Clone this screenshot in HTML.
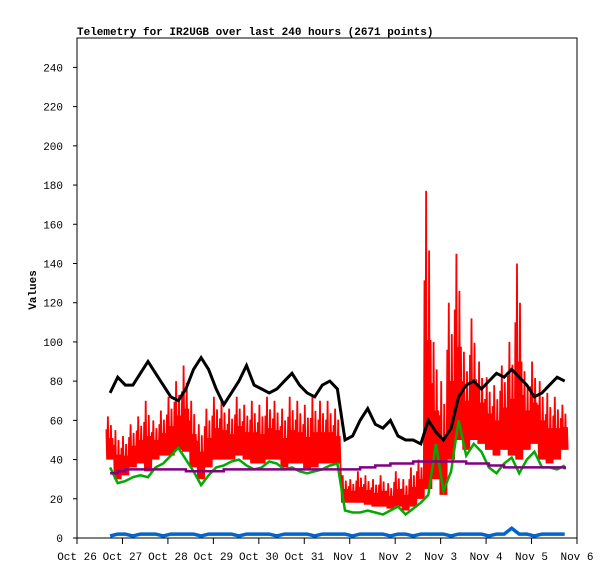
<!DOCTYPE html>
<html><head><meta charset="utf-8"><style>
body{margin:0;background:#fff}
svg text{font-family:"Liberation Mono",monospace;font-size:11px;fill:#000}
</style></head><body>
<svg id="chart" width="615" height="579" xmlns="http://www.w3.org/2000/svg">
<text x="77" y="35" style="font-weight:bold">Telemetry for IR2UGB over last 240 hours (2671 points)</text>
<text transform="translate(36,290) rotate(-90)" text-anchor="middle" style="font-weight:bold">Values</text>
<g id="plot"></g>
</svg>
<script>
const xTickLabels=["Oct 26","Oct 27","Oct 28","Oct 29","Oct 30","Oct 31","Nov 1","Nov 2","Nov 3","Nov 4","Nov 5","Nov 6"];
const yTicks=[0,20,40,60,80,100,120,140,160,180,200,220,240];
const startHour=17.5, stepHours=4;
const black=[74,82,78,78,84,90,84,78,72,70,76,86,92,86,76,68,74,80,88,78,76,74,76,80,84,78,74,72,78,80,76,50,52,60,66,58,56,60,52,50,50,48,60,54,50,56,72,78,80,76,80,84,82,86,82,78,72,74,78,82,80];
const green=[36,28,29,31,32,31,36,38,42,46,40,34,27,32,36,37,39,40,37,35,36,39,38,35,36,34,33,34,35,37,38,14,13,13,14,13,12,14,16,12,15,18,22,48,24,34,60,42,48,44,36,33,38,41,33,40,44,36,36,35,37];
const redHi=[62,55,52,58,62,70,60,65,72,80,88,70,58,66,72,70,66,72,68,70,68,72,70,66,72,70,68,72,70,70,66,32,30,34,32,30,32,28,34,30,36,40,177,100,80,120,145,95,112,90,82,78,88,100,140,85,90,80,74,72,68];
const redLo=[40,30,32,36,38,34,40,42,42,45,44,36,30,36,40,40,40,42,40,38,38,40,40,36,38,38,35,36,38,38,38,18,18,18,17,16,16,15,16,14,16,20,25,30,22,40,50,45,50,48,45,42,45,42,40,45,48,40,38,40,45];
const purple=[33,34,35,35,35,35,35,35,35,35,34,34,34,34,34,35,35,35,35,35,35,35,35,35,35,35,35,35,35,35,35,35,35,36,36,37,37,38,38,38,39,39,39,39,39,39,39,38,38,38,37,37,36,36,36,36,36,36,36,36,35];
const blue=[1,2,2,1,2,2,2,1,2,2,2,2,1,2,2,2,2,1,2,2,2,2,1,2,2,2,2,1,2,2,2,2,1,2,2,2,2,1,2,2,1,2,2,2,2,1,2,2,2,2,1,2,2,5,2,2,1,2,2,2,2];

const X0=77,X1=577,Y0=538,Y1=38,YMAX=255;
const xH=h=>X0+h*(X1-X0)/264;
const xI=i=>xH(startHour+i*stepHours);
const yV=v=>Y0-v*(Y0-Y1)/YMAX;
const NS="http://www.w3.org/2000/svg";
const g=document.getElementById('plot');
function mk(tag,attrs){const e=document.createElementNS(NS,tag);for(const k in attrs)e.setAttribute(k,attrs[k]);g.appendChild(e);return e;}

const frame=mk('rect',{x:X0,y:Y1,width:X1-X0,height:Y0-Y1,fill:'none',stroke:'#000','stroke-width':1});


yTicks.forEach(v=>{
  const t=mk('line',{x1:X0-4,x2:X0,y1:yV(v),y2:yV(v),stroke:'#000'});
  
  
  const l=mk('text',{x:X0-14,y:yV(v)+4,'text-anchor':'end'});l.textContent=v;
  
  
});
xTickLabels.forEach((s,i)=>{
  const x=xH(i*24);
  const t=mk('line',{x1:x,x2:x,y1:Y0,y2:Y0+6,stroke:'#000'});
  
  
  const l=mk('text',{x:x,y:Y0+22,'text-anchor':'middle'});l.textContent=s;
  
  
});
function line(pts,color,w,name){
  const p=mk('polyline',{points:pts.map(q=>q[0].toFixed(1)+','+q[1].toFixed(1)).join(' '),fill:'none',stroke:color,'stroke-width':w,'stroke-linejoin':'miter'});
  
  
}
// red zigzag: one full spike per interval, other oscillations reach mid level
const rp=[];
const pxStep=stepHours*(X1-X0)/264;
redHi.forEach((hi,i)=>{const lo=redLo[i];const mid=(hi+lo)/2;const x=xI(i);
  const tops=[mid+(hi-mid)*0.4,hi,mid,mid+(hi-mid)*0.6,mid];
  tops.forEach((top,k)=>{const dx=(k-2.5)*pxStep/5;rp.push([x+dx,yV(top)]);rp.push([x+dx+pxStep/10,yV(lo)]);});
});
line(rp,'#ff0000',1.8,'red-series');
line(green.map((v,i)=>[xI(i),yV(v)]),'#00aa00',2.5,'green-series');
const pp=[];purple.forEach((v,i)=>{pp.push([xI(i),yV(v)]);pp.push([xI(i)+pxStep,yV(v)]);});
line(pp.slice(0,-1),'#800080',2.5,'purple-series');
line(black.map((v,i)=>[xI(i),yV(v)]),'#000000',3,'black-series');
line(blue.map((v,i)=>[xI(i),yV(v)]),'#0066cc',3.5,'blue-series');
</script>
</body></html>
